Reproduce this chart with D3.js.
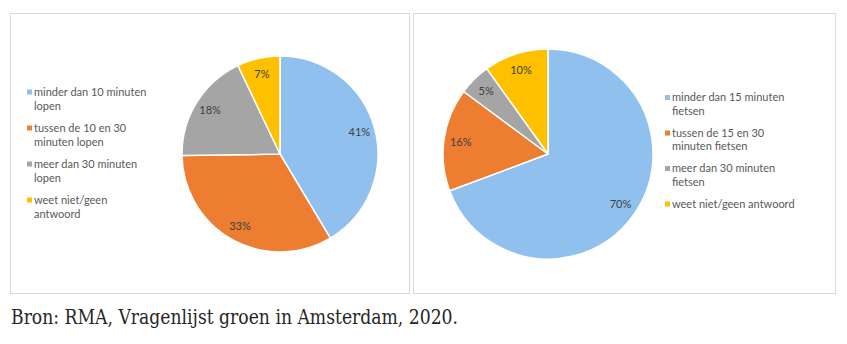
<!DOCTYPE html>
<html>
<head>
<meta charset="utf-8">
<script src="https://cdn.jsdelivr.net/npm/d3@7"></script>
<style>
  html, body { margin: 0; padding: 0; background: #fff; }
  svg { display: block; }
</style>
</head>
<body>
<svg id="chart" width="847" height="344"></svg>
<script>
// Walking distance to green space (left pie)
const walkCategories = [
  ["minder dan 10 minuten", "lopen"],
  ["tussen de 10 en 30", "minuten lopen"],
  ["meer dan 30 minuten", "lopen"],
  ["weet niet/geen", "antwoord"]
];
const walkValues = [41, 33, 18, 7];

// Cycling distance to green space (right pie)
const bikeCategories = [
  ["minder dan 15 minuten", "fietsen"],
  ["tussen de 15 en 30", "minuten fietsen"],
  ["meer dan 30 minuten", "fietsen"],
  ["weet niet/geen antwoord"]
];
const bikeValues = [70, 16, 5, 10];

const sliceColors = ["#8fc0ee", "#ed7d31", "#a5a5a5", "#ffc000"];
const sourceText = "Bron: RMA, Vragenlijst groen in Amsterdam, 2020.";

const svg = d3.select("#chart");
const color = d3.scaleOrdinal().domain(d3.range(4)).range(sliceColors);
const sansFont = "Lato, 'Open Sans', sans-serif";

function panel(x0, x1, y0, y1) {
  svg.append("rect")
    .attr("x", x0 + 0.5).attr("y", y0 + 0.5)
    .attr("width", x1 - x0).attr("height", y1 - y0)
    .attr("fill", "#fff").attr("stroke", "#d9d9d9").attr("stroke-width", 1);
}

function drawPie(values, cx, cy, r) {
  const pie = d3.pie().sort(null).value(d => d);
  const arcs = pie(values);
  const arc = d3.arc().innerRadius(0).outerRadius(r);
  const labelArc = d3.arc().innerRadius(r * 0.84).outerRadius(r * 0.84);
  const g = svg.append("g").attr("transform", `translate(${cx},${cy})`);
  g.selectAll("path").data(arcs).join("path")
    .attr("d", arc)
    .attr("fill", (d, i) => color(i))
    .attr("stroke", "#fff").attr("stroke-width", 1.5)
    .attr("stroke-linejoin", "round");
  g.selectAll("text").data(arcs).join("text")
    .attr("transform", d => `translate(${labelArc.centroid(d)})`)
    .attr("text-anchor", "middle").attr("dy", "0.35em")
    .attr("font-family", sansFont).attr("font-size", 11)
    .attr("fill", "#404040")
    .text(d => `${d.data}%`);
}

function drawLegend(cats, x, y, lineGap, itemGap) {
  const g = svg.append("g").attr("transform", `translate(${x},${y})`);
  let yy = 0;
  cats.forEach((lines, i) => {
    g.append("rect")
      .attr("x", 0).attr("y", yy - 2.5).attr("width", 5).attr("height", 5)
      .attr("fill", color(i));
    const t = g.append("text")
      .attr("font-family", sansFont).attr("font-size", 11)
      .attr("fill", "#595959");
    lines.forEach((ln, j) => {
      t.append("tspan").attr("x", 7).attr("y", yy + j * lineGap).attr("dy", "0.35em").text(ln);
    });
    yy += itemGap;
  });
}

// Panels
panel(10, 409, 13, 293);
panel(413, 835, 13, 293);

// Left: walking
drawPie(walkValues, 280, 154, 98);
drawLegend(walkCategories, 27, 92, 14.3, 36);

// Right: cycling
drawPie(bikeValues, 548, 154, 105);
drawLegend(bikeCategories, 665, 97.5, 13.5, 35.5);

// Source line
svg.append("text")
  .attr("x", 11).attr("y", 324)
  .attr("font-family", "'DejaVu Serif', 'Liberation Serif', serif")
  .attr("font-stretch", "condensed")
  .attr("font-size", 20).attr("fill", "#262626")
  .attr("textLength", 447).attr("lengthAdjust", "spacingAndGlyphs")
  .text(sourceText);
</script>
</body>
</html>
